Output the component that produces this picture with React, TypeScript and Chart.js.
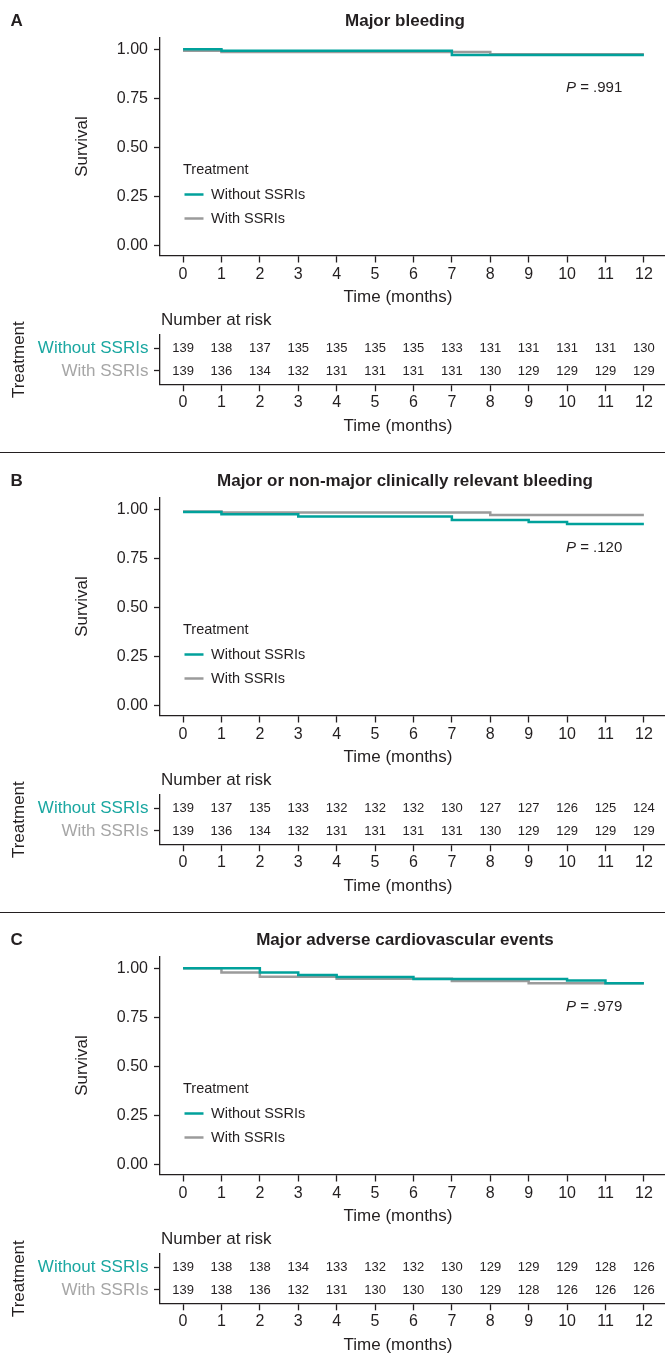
import React, { useEffect, useRef } from "react";
import { Chart, registerables } from "chart.js";

Chart.register(...registerables);

// ---------------- data ----------------
const months = [0, 1, 2, 3, 4, 5, 6, 7, 8, 9, 10, 11, 12];
const survivalTicks = [0, 0.25, 0.5, 0.75, 1];
const groups = ["Without SSRIs", "With SSRIs"];

// Panel A – Major bleeding
const aTitle = "Major bleeding";
const aP = ".991";
const aWithoutTimes = [0, 1, 7, 12];
const aWithoutSurv = [1.0, 0.993, 0.971, 0.971];
const aWithTimes = [0, 1, 8, 12];
const aWithSurv = [0.993, 0.986, 0.975, 0.975];
const aRiskWithout = [139, 138, 137, 135, 135, 135, 135, 133, 131, 131, 131, 131, 130];
const aRiskWith = [139, 136, 134, 132, 131, 131, 131, 131, 130, 129, 129, 129, 129];

// Panel B – Major or non-major clinically relevant bleeding
const bTitle = "Major or non-major clinically relevant bleeding";
const bP = ".120";
const bWithoutTimes = [0, 1, 3, 7, 9, 10, 12];
const bWithoutSurv = [0.986, 0.975, 0.963, 0.945, 0.935, 0.925, 0.925];
const bWithTimes = [0, 1, 8, 12];
const bWithSurv = [0.989, 0.983, 0.971, 0.971];
const bRiskWithout = [139, 137, 135, 133, 132, 132, 132, 130, 127, 127, 126, 125, 124];
const bRiskWith = [139, 136, 134, 132, 131, 131, 131, 131, 130, 129, 129, 129, 129];

// Panel C – Major adverse cardiovascular events
const cTitle = "Major adverse cardiovascular events";
const cP = ".979";
const cWithoutTimes = [0, 2, 3, 4, 6, 10, 11, 12];
const cWithoutSurv = [1.0, 0.978, 0.966, 0.955, 0.945, 0.937, 0.923, 0.923];
const cWithTimes = [0, 1, 2, 4, 7, 9, 12];
const cWithSurv = [1.0, 0.979, 0.957, 0.946, 0.935, 0.923, 0.923];
const cRiskWithout = [139, 138, 138, 134, 133, 132, 132, 130, 129, 129, 129, 128, 126];
const cRiskWith = [139, 138, 136, 132, 131, 130, 130, 130, 129, 128, 126, 126, 126];

// ---------------- styles ----------------
const FONT = "'Liberation Sans', Arial, Helvetica, sans-serif";
const INK = "#231f20";
const TEAL = "#00a19b";
const GRAY = "#9b9b9b";
const ROW_COLORS = ["#1aa7a1", "#a6a6a6"];

Chart.defaults.font.family = FONT;
Chart.defaults.color = INK;

type Panel = {
  letter: string;
  title: string;
  p: string;
  withoutTimes: number[];
  withoutSurv: number[];
  withTimes: number[];
  withSurv: number[];
  riskWithout: number[];
  riskWith: number[];
  top: number;
};

const panels: Panel[] = [
  { letter: "A", title: aTitle, p: aP, withoutTimes: aWithoutTimes, withoutSurv: aWithoutSurv, withTimes: aWithTimes, withSurv: aWithSurv, riskWithout: aRiskWithout, riskWith: aRiskWith, top: 0 },
  { letter: "B", title: bTitle, p: bP, withoutTimes: bWithoutTimes, withoutSurv: bWithoutSurv, withTimes: bWithTimes, withSurv: bWithSurv, riskWithout: bRiskWithout, riskWith: bRiskWith, top: 460 },
  { letter: "C", title: cTitle, p: cP, withoutTimes: cWithoutTimes, withoutSurv: cWithoutSurv, withTimes: cWithTimes, withSurv: cWithSurv, riskWithout: cRiskWithout, riskWith: cRiskWith, top: 919 },
];

const W = 665;
const KM_H = 310;
const RISK_H = 145;
const AXIS_LEFT = 160;
const X_MIN = -0.6;
const X_MAX = 12.55;

function xScale(height: number) {
  return {
    type: "linear",
    min: X_MIN,
    max: X_MAX,
    afterBuildTicks: (s: any) => {
      s.ticks = months.map((v) => ({ value: v }));
    },
    afterFit: (s: any) => {
      s.height = height;
    },
    grid: {
      display: true,
      drawOnChartArea: false,
      drawTicks: true,
      tickLength: 7,
      tickWidth: 1.3,
      tickColor: INK,
    },
    border: { display: true, color: INK, width: 1.3 },
    ticks: {
      color: INK,
      font: { family: FONT, size: 16 },
      padding: 2,
      maxRotation: 0,
      autoSkip: false,
      callback: (v: any) => String(v),
    },
  };
}

function kmDecor(p: Panel) {
  return {
    id: "kmDecor" + p.letter,
    afterDraw(chart: any) {
      const ctx = chart.ctx;
      ctx.save();
      ctx.fillStyle = INK;
      ctx.textBaseline = "middle";
      ctx.font = `bold 17px ${FONT}`;
      ctx.textAlign = "left";
      ctx.fillText(p.letter, 10.5, 21.7);
      ctx.textAlign = "center";
      ctx.fillText(p.title, 405, 21.7);

      // P value
      ctx.textAlign = "left";
      ctx.font = `italic 15px ${FONT}`;
      ctx.fillText("P", 566, 88.3);
      const pw = ctx.measureText("P").width;
      ctx.font = `15px ${FONT}`;
      ctx.fillText(" = " + p.p, 566 + pw, 88.3);

      // legend
      ctx.font = `14.5px ${FONT}`;
      ctx.fillText("Treatment", 183, 170);
      chart.data.datasets.forEach((ds: any, i: number) => {
        const y = 194.5 + i * 24;
        ctx.strokeStyle = ds.borderColor;
        ctx.lineWidth = 2.5;
        ctx.beginPath();
        ctx.moveTo(184.5, y);
        ctx.lineTo(203.5, y);
        ctx.stroke();
        ctx.fillText(ds.label, 211, y + 0.5);
      });

      // x axis title
      ctx.font = `17px ${FONT}`;
      ctx.textAlign = "center";
      ctx.fillText("Time (months)", 398, 297);
      ctx.restore();
    },
  };
}

function riskDecor(p: Panel) {
  return {
    id: "riskDecor" + p.letter,
    afterDraw(chart: any) {
      const ctx = chart.ctx;
      ctx.save();
      ctx.fillStyle = INK;
      ctx.textBaseline = "middle";
      ctx.font = `17px ${FONT}`;
      ctx.textAlign = "left";
      ctx.fillText("Number at risk", 161, 10.7);
      ctx.textAlign = "center";
      ctx.fillText("Time (months)", 398, 116);

      ctx.font = `13px ${FONT}`;
      chart.data.datasets.forEach((ds: any, di: number) => {
        const meta = chart.getDatasetMeta(di);
        meta.data.forEach((pt: any, i: number) => {
          ctx.fillText(String(ds.data[i].n), pt.x, pt.y);
        });
      });
      ctx.restore();
    },
  };
}

function KMChart({ p }: { p: Panel }) {
  const ref = useRef<HTMLCanvasElement | null>(null);
  useEffect(() => {
    if (!ref.current) return;
    const chart = new Chart(ref.current, {
      type: "line",
      data: {
        datasets: [
          {
            label: groups[0],
            data: p.withoutTimes.map((t, i) => ({ x: t, y: p.withoutSurv[i] })),
            borderColor: TEAL,
            backgroundColor: TEAL,
            borderWidth: 2.5,
            stepped: true,
            pointRadius: 0,
            fill: false,
          },
          {
            label: groups[1],
            data: p.withTimes.map((t, i) => ({ x: t, y: p.withSurv[i] })),
            borderColor: GRAY,
            backgroundColor: GRAY,
            borderWidth: 2.5,
            stepped: true,
            pointRadius: 0,
            fill: false,
          },
        ],
      },
      options: {
        responsive: false,
        animation: false,
        devicePixelRatio: 1,
        layout: { padding: { top: 37.5, left: 0, right: 0, bottom: 0 } },
        plugins: {
          legend: { display: false },
          tooltip: { enabled: false },
          title: { display: false },
        },
        scales: {
          x: xScale(KM_H - 255.5) as any,
          y: {
            type: "linear",
            min: -0.052,
            max: 1.06,
            afterBuildTicks: (s: any) => {
              s.ticks = survivalTicks.map((v) => ({ value: v }));
            },
            afterFit: (s: any) => {
              s.width = AXIS_LEFT;
            },
            grid: {
              display: true,
              drawOnChartArea: false,
              drawTicks: true,
              tickLength: 6,
              tickWidth: 1.3,
              tickColor: INK,
            },
            border: { display: true, color: INK, width: 1.3 },
            ticks: {
              color: INK,
              font: { family: FONT, size: 16 },
              padding: 6,
              callback: (v: any) => Number(v).toFixed(2),
            },
            title: {
              display: true,
              text: "Survival",
              color: INK,
              font: { family: FONT, size: 17 },
              padding: { top: 72.5, bottom: 0 },
            },
          },
        },
      } as any,
      plugins: [kmDecor(p)],
    });
    return () => chart.destroy();
  }, [p]);
  return (
    <canvas
      ref={ref}
      width={W}
      height={KM_H}
      style={{ position: "absolute", left: 0, top: p.top, width: W, height: KM_H }}
    />
  );
}

function RiskChart({ p }: { p: Panel }) {
  const ref = useRef<HTMLCanvasElement | null>(null);
  useEffect(() => {
    if (!ref.current) return;
    const rows = [p.riskWithout, p.riskWith];
    const chart = new Chart(ref.current, {
      type: "scatter",
      data: {
        datasets: groups.map((g, r) => ({
          label: g,
          data: months.map((m, i) => ({ x: m, y: r, n: rows[r][i] })),
          pointRadius: 0,
          showLine: false,
        })),
      },
      options: {
        responsive: false,
        animation: false,
        devicePixelRatio: 1,
        layout: { padding: { top: 25, left: 0, right: 0, bottom: 0 } },
        plugins: {
          legend: { display: false },
          tooltip: { enabled: false },
          title: { display: false },
        },
        scales: {
          x: xScale(RISK_H - 74.3) as any,
          y: {
            type: "linear",
            reverse: true,
            min: -0.62,
            max: 1.6,
            afterBuildTicks: (s: any) => {
              s.ticks = groups.map((_, i) => ({ value: i }));
            },
            afterFit: (s: any) => {
              s.width = AXIS_LEFT;
            },
            grid: {
              display: true,
              drawOnChartArea: false,
              drawTicks: true,
              tickLength: 6,
              tickWidth: 1.3,
              tickColor: INK,
            },
            border: { display: true, color: INK, width: 1.3 },
            ticks: {
              color: (c: any) => ROW_COLORS[c.index] || INK,
              font: { family: FONT, size: 17 },
              padding: 5.6,
              callback: (v: any) => groups[Number(v)] ?? "",
            },
            title: {
              display: true,
              text: "Treatment",
              color: INK,
              font: { family: FONT, size: 17 },
              padding: { top: 8.8, bottom: 0 },
            },
          },
        },
      } as any,
      plugins: [riskDecor(p)],
    });
    return () => chart.destroy();
  }, [p]);
  return (
    <canvas
      ref={ref}
      width={W}
      height={RISK_H}
      style={{ position: "absolute", left: 0, top: p.top + KM_H, width: W, height: RISK_H }}
    />
  );
}

export default function App() {
  return (
    <div
      style={{
        position: "absolute",
        left: 0,
        top: 0,
        width: W,
        height: 1354,
        background: "#ffffff",
        overflow: "hidden",
      }}
    >
      {panels.map((p) => (
        <React.Fragment key={p.letter}>
          <KMChart p={p} />
          <RiskChart p={p} />
        </React.Fragment>
      ))}
      {[452, 912].map((y) => (
        <div
          key={y}
          style={{ position: "absolute", left: 0, top: y, width: W, height: 1, background: INK }}
        />
      ))}
    </div>
  );
}
